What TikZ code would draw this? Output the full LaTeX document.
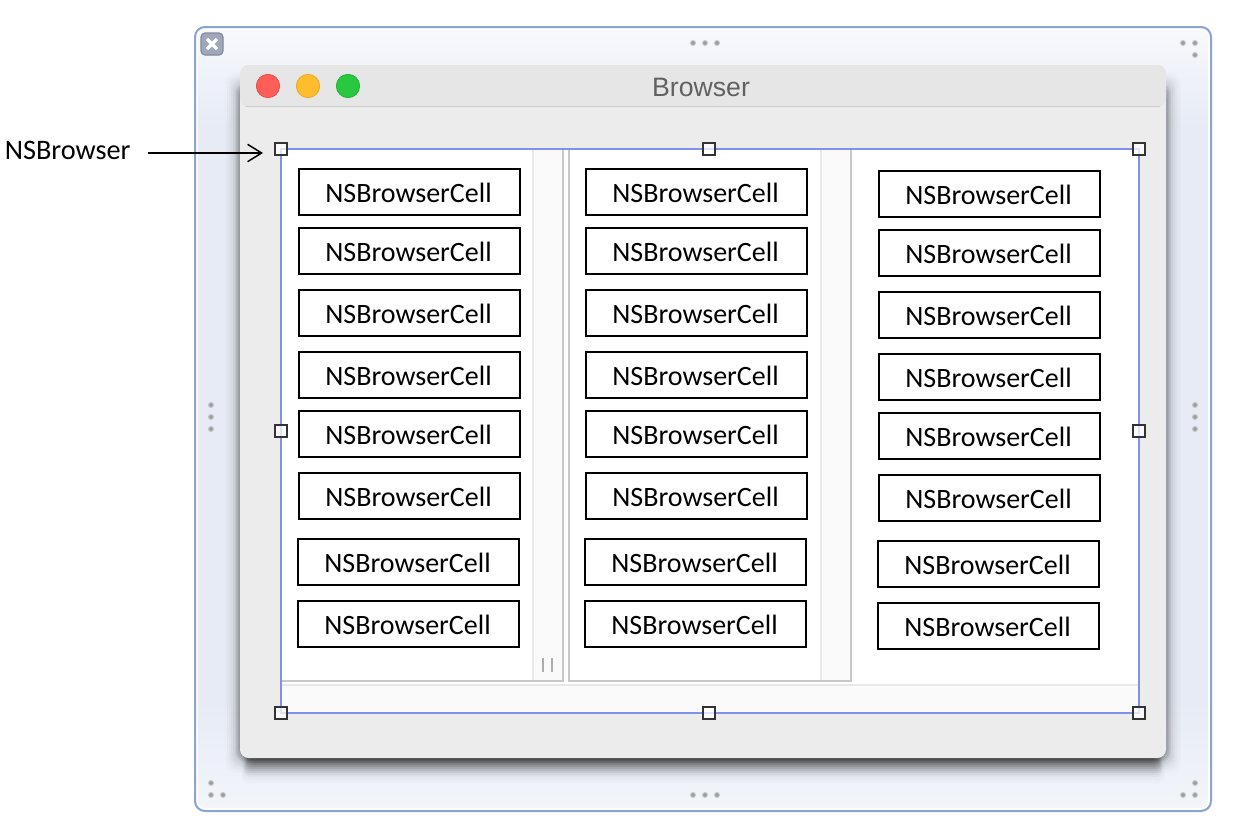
\documentclass[tikz,border=0pt]{standalone}
\usepackage{fontspec}
\setmainfont{Carlito}
\newfontfamily\titlefont{Liberation Sans}
\usetikzlibrary{arrows.meta}
\definecolor{framec}{HTML}{8CA3D8}
\definecolor{selc}{HTML}{7F92EA}
\definecolor{sidec}{HTML}{E6EBF5}
\definecolor{winc}{HTML}{ECECEC}
\definecolor{barc}{HTML}{E6E6E6}
\definecolor{linec}{HTML}{C8C8C8}
\definecolor{stripc}{HTML}{FAFAFA}
\definecolor{stripl}{HTML}{E8E8E8}
\tikzset{
  cell/.style={draw=black,fill=white,line width=1.5pt,minimum width=165.75pt,minimum height=34.5pt,inner sep=0pt,font=\fontsize{21pt}{25pt}\selectfont},
  handle/.style={draw=black!80,fill=white,fill opacity=.75,text opacity=1,line width=1.7pt,minimum size=8.6pt,inner sep=0pt,outer sep=0pt},
  griplight/.style={fill=black!45,draw=none,opacity=.75},
  collinec/.style={draw=linec,line width=1.5pt},
  striplinec/.style={draw=stripl,line width=1.5pt},
  lamp/.style={circle,minimum size=17.5pt,inner sep=0pt,line width=.6pt}
}
\begin{document}
\begin{tikzpicture}[x=0.75pt,y=-0.75pt]
\useasboundingbox (0,0) rectangle (1255,829);
\fill[white] (0,0) rectangle (1255,829);
% outer frame
\begin{scope}
  \clip[rounded corners=7.5pt] (195,27) rectangle (1211,811);
  \fill[sidec] (195,27) rectangle (1211,811);
  \shade[top color=white!70!sidec,bottom color=sidec] (195,27) rectangle (1211,125);
  \shade[top color=sidec,bottom color=sidec!50!white] (195,700) rectangle (1211,811);
\end{scope}
\draw[white,line width=1.2pt,rounded corners=6.5pt] (197,29) rectangle (1209,809);
\draw[framec,line width=1.5pt,rounded corners=7.5pt] (195,27) rectangle (1211,811);
% grip dots
\foreach \dx/\dy in {693/43,705/43,717/43,1183/43,1195/43,1195/55,211/405,211/417,211/429,1195/405,1195/417,1195/429,693/795,705/795,717/795,211/783,211/795,223/795,1195/783,1183/795,1195/795}{
  \fill[black!25] (\dx,\dy) circle (2.2pt);
  \fill[griplight] (\dx,\dy) circle (1.4pt);
}
% close badge
\draw[fill=black!10!framec!55!gray!75,draw=gray!70!framec,line width=.9pt,rounded corners=3pt] (201,33) rectangle (223,55);
\draw[white,line width=2.6pt] (207,39) -- (217,49) (217,39) -- (207,49);
% window shadow
\foreach \e/\a in {16/.012,14/.015,12/.02,10/.03,8/.04,6/.05,5/.06,4/.06,3/.06,2/.06,1/.06,0/.06}{
  \fill[black,fill opacity=\a,rounded corners=8pt] ({241-\e},{88-\e}) rectangle ({1165+\e},{757+\e});
}
\foreach \e/\a in {26/.015,23/.02,20/.03,18/.04,16/.05,14/.06,12/.07,10/.08,8/.09,6/.1,4/.1,2/.1,0/.1}{
  \fill[black,fill opacity=\a,rounded corners=5pt] ({250-\e/3},700) rectangle ({1156+\e/3},{757+\e});
}
% window
\fill[winc,rounded corners=6.5pt] (240,65) rectangle (1166,758);
\fill[barc,rounded corners=6.5pt] (240,65) rectangle (1166,107);
\draw[black!20,line width=.9pt,rounded corners=3pt] (246,106.5) -- (1160,106.5);
% traffic lights
\node[lamp,draw={rgb,255:red,226;green,80;blue,74},fill={rgb,255:red,254;green,94;blue,87}] (lampr) at (268,86) {};
\node[lamp,draw={rgb,255:red,232;green,168;blue,40},fill={rgb,255:red,255;green,188;blue,44}] (lampy) at (308,86) {};
\node[lamp,draw={rgb,255:red,36;green,178;blue,56},fill={rgb,255:red,40;green,201;blue,64}] (lampg) at (348,86) {};
\node[text=black!62,font=\titlefont\fontsize{20pt}{24pt}\selectfont,inner sep=0pt] (wintitle) at (701,87) {Browser};
% browser body
\fill[white] (281,149) rectangle (1139,713);
\fill[stripc] (281,685) rectangle (1139,713);
\draw[striplinec] (281,685) -- (1139,685);
% columns
\fill[stripc] (533,149) rectangle (563,681);
\draw[striplinec] (533,149) -- (533,681);
\fill[stripc] (821,149) rectangle (851,681);
\draw[striplinec] (821,149) -- (821,681);
\draw[collinec] (281,681) -- (563,681) -- (563,149);
\draw[collinec] (569,149) -- (569,681) -- (851,681) -- (851,149);
\draw[black!32,line width=1.5pt] (543,658) -- (543,672) (551.5,658) -- (551.5,672);
% cells
\foreach \c/\cx/\cy in {1/409.5/0,2/696.5/0,3/989.5/2}{
  \foreach \n/\ry/\sx in {1/192/0,2/251/0,3/313/0,4/375/0,5/434/0,6/496/0,7/562/-1,8/624/-1}{
    \node[cell] (cell\c\n) at ({\cx+\sx},{\ry+\cy}) {\hspace*{-1.5pt}\raisebox{0pt}[16pt][0pt]{NSBrowserCell}};
  }
}
% selection
\draw[selc,line width=1.5pt] (281,149) rectangle (1139,713);
\node[handle] (hTL) at (281,149) {};
\node[handle] (hT) at (709,149) {};
\node[handle] (hTR) at (1139,149) {};
\node[handle] (hL) at (281,431) {};
\node[handle] (hR) at (1139,431) {};
\node[handle] (hBL) at (281,713) {};
\node[handle] (hB) at (709,713) {};
\node[handle] (hBR) at (1139,713) {};
% label and arrow
\node[anchor=west,inner sep=0pt,font=\fontsize{21.2pt}{25pt}\selectfont] (nsb) at (4.5,150.3) {NSBrowser};
\coordinate (arrowfrom) at (148,153);
\coordinate (arrowto) at (263,153);
\draw[-{Straight Barb[length=10.5pt,width=13pt,line width=1.1pt]},line width=1.1pt] (arrowfrom) -- (arrowto);
\end{tikzpicture}
\end{document}
